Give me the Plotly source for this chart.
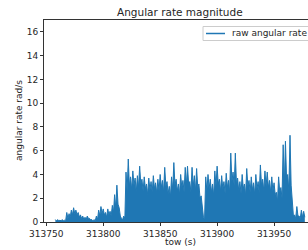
import numpy as np
import plotly.graph_objects as go

# sampled every 2 s starting at tow 313758: local peaks and troughs (rad/s)
t_start = 313758
t_step = 2
peaks = [0.2, 0.2, 0.15, 0.2, 0.15, 0.8, 0.7, 1.0, 1.2, 1.0,
         0.8, 0.6, 0.5, 0.4, 0.5, 0.3, 0.2, 0.2, 0.5, 1.0,
         1.3, 1.1, 0.8, 1.1, 0.9, 1.4, 2.3, 3.1, 1.2, 0.3,
         0.5, 4.2, 5.3, 3.8, 4.3, 3.7, 3.9, 4.7, 3.6, 3.8,
         3.2, 3.7, 3.4, 3.9, 3.3, 3.6, 4.0, 3.5, 4.6, 3.4,
         3.0, 3.8, 5.0, 3.6, 3.2, 4.0, 3.5, 4.6, 4.7, 3.4,
         4.6, 3.9, 4.5, 3.2, 2.2, 0.4, 3.8, 4.0, 3.6, 3.2,
         4.3, 4.7, 3.6, 3.9, 3.4, 4.1, 3.5, 5.8, 4.2, 5.8,
         3.7, 3.4, 4.0, 3.2, 4.5, 3.5, 3.8, 3.3, 4.0, 3.4,
         4.8, 3.6, 4.3, 4.2, 3.5, 3.8, 3.3, 2.5, 3.8, 2.9,
         6.5, 6.8, 4.0, 7.3, 1.5, 0.6, 1.3, 0.5, 1.0, 0.9]
troughs = [0.1, 0.1, 0.1, 0.1, 0.1, 0.3, 0.4, 0.6, 0.7, 0.6,
           0.4, 0.3, 0.2, 0.2, 0.3, 0.2, 0.1, 0.1, 0.2, 0.5,
           0.7, 0.6, 0.4, 0.6, 0.5, 0.8, 1.2, 1.5, 0.5, 0.2,
           0.3, 2.6, 3.0, 2.7, 3.1, 2.5, 2.9, 3.2, 2.6, 2.8,
           2.3, 2.7, 2.5, 2.8, 2.4, 2.6, 2.9, 2.5, 3.0, 2.4,
           2.1, 2.7, 3.1, 2.6, 2.3, 2.9, 2.5, 3.1, 3.2, 2.5,
           3.0, 2.6, 2.9, 2.0, 1.0, 0.3, 2.6, 2.8, 2.5, 2.2,
           3.0, 3.2, 2.6, 2.8, 2.4, 2.9, 2.5, 3.4, 3.0, 3.2,
           2.6, 2.4, 2.8, 2.2, 3.0, 2.5, 2.7, 2.3, 2.8, 2.4,
           3.1, 2.6, 3.0, 2.9, 2.5, 2.6, 2.3, 1.7, 2.5, 2.0,
           3.1, 3.6, 2.6, 3.1, 0.5, 0.3, 0.5, 0.3, 0.4, 0.4]

x_ticks = [313750, 313800, 313850, 313900, 313950]
y_ticks = [0, 2, 4, 6, 8, 10, 12, 14, 16]
series_name = "raw angular rate"

times = t_start + t_step * np.arange(len(peaks))
xs, ys = [], []
for ti, p, q in zip(times, peaks, troughs):
    xs += [ti, ti + t_step / 2]
    ys += [p, q]

blue = "#1f77b4"
txt = "#262626"
font = "DejaVu Sans"

W, H = 308, 250
L, R, T, B = 44, 0, 20, 28
pw, ph = W - L - R, H - T - B


def px2x(px):
    return (px - L) / pw


def py2y(py):
    return (H - B - py) / ph


fig = go.Figure()
fig.add_trace(go.Scatter(x=xs, y=ys, mode="lines", line=dict(color=blue, width=1),
                         fill="tozeroy", fillcolor=blue, name=series_name,
                         showlegend=False, hoverinfo="skip"))

shapes = [
    # legend frame and sample line (legend box runs past the right edge)
    dict(type="rect", xref="paper", yref="paper", x0=px2x(203), x1=px2x(330),
         y0=py2y(40.5), y1=py2y(26.5), line=dict(color="#cccccc", width=1),
         fillcolor="white", layer="above"),
    dict(type="line", xref="paper", yref="paper", x0=px2x(206), x1=px2x(225),
         y0=py2y(33.5), y1=py2y(33.5), line=dict(color=blue, width=1.5),
         layer="above"),
]

fig.update_layout(
    width=W, height=H,
    margin=dict(l=L, r=R, t=T, b=B),
    paper_bgcolor="white", plot_bgcolor="white",
    font=dict(family=font, size=9, color=txt),
    showlegend=False,
    hovermode=False,
    xaxis=dict(range=[313748, 313979.8], tickvals=x_ticks, tickformat="d",
               showgrid=False, zeroline=False, showline=True, mirror=True,
               linecolor="#333", linewidth=1, ticks="outside", ticklen=3,
               tickcolor="#333", tickfont=dict(size=9, color=txt)),
    yaxis=dict(range=[0, 17], tickvals=y_ticks, showgrid=False, zeroline=False,
               showline=True, mirror=False, linecolor="#333", linewidth=1,
               ticks="outside", ticklen=3, tickcolor="#333",
               tickfont=dict(size=9, color=txt)),
    shapes=shapes,
    annotations=[
        dict(text="Angular rate magnitude", xref="paper", yref="paper",
             x=px2x(180), y=py2y(12), showarrow=False, xanchor="center",
             yanchor="middle", font=dict(size=10.5, color=txt)),
        dict(text="tow (s)", xref="paper", yref="paper", x=px2x(180),
             y=py2y(242), showarrow=False, xanchor="center", yanchor="middle",
             font=dict(size=9, color=txt)),
        dict(text="angular rate rad/s", xref="paper", yref="paper",
             x=px2x(19), y=py2y(121), showarrow=False, textangle=-90,
             xanchor="center", yanchor="middle", font=dict(size=9, color=txt)),
        dict(text=series_name, xref="paper", yref="paper", x=px2x(230),
             y=py2y(33.5), showarrow=False, xanchor="left", yanchor="middle",
             font=dict(size=9, color=txt)),
    ],
)
fig.write_html("out.html", config={"displayModeBar": False},
               post_script="document.body.style.margin='0px';")
